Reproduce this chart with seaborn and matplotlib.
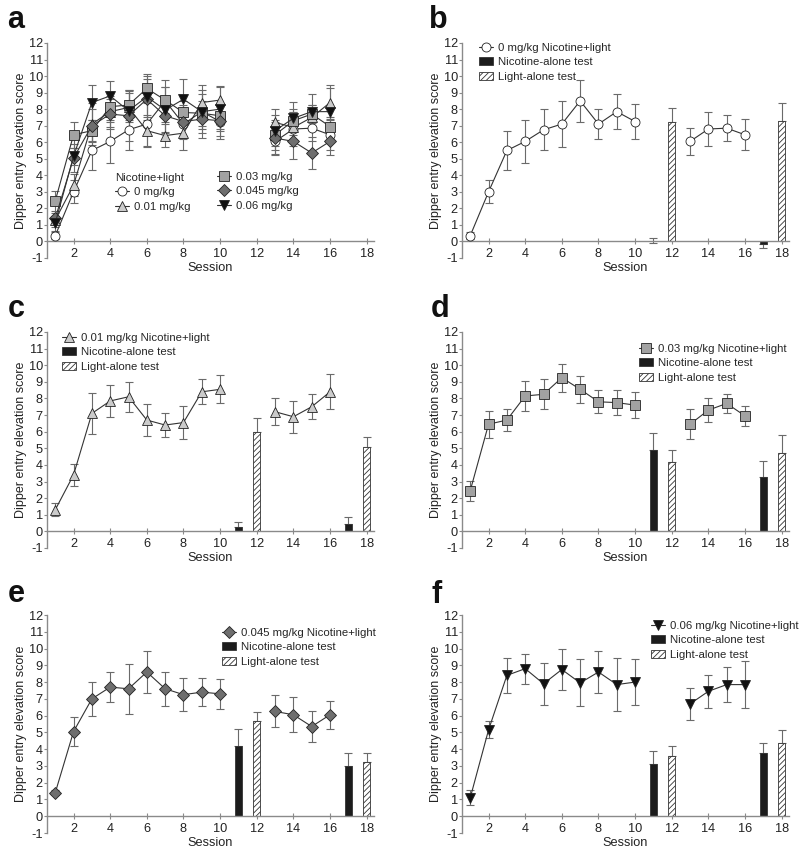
import matplotlib
matplotlib.use('Agg')
import pandas as pd
import matplotlib.pyplot as plt
from matplotlib.lines import Line2D
from matplotlib.patches import Patch
import seaborn as sns

# sessions with the compound stimulus (two blocks)
sessions = [1, 2, 3, 4, 5, 6, 7, 8, 9, 10, 13, 14, 15, 16]
segment = [1] * 10 + [2] * 4
nic_sessions = [11, 17]
light_sessions = [12, 18]

# 0 mg/kg
mean_0 = [0.35, 3.0, 5.5, 6.05, 6.75, 7.1, 8.5, 7.1, 7.85, 7.25, 6.05, 6.8, 6.85, 6.45]
sem_0 = [0.2, 0.7, 1.15, 1.3, 1.25, 1.4, 1.25, 0.9, 1.05, 1.05, 0.8, 1.05, 0.8, 0.95]
nic_0 = [0.03, -0.15]
nic_sem_0 = [0.15, 0.25]
light_0 = [7.25, 7.3]
light_sem_0 = [0.8, 1.05]

# 0.01 mg/kg
mean_001 = [1.3, 3.4, 7.1, 7.85, 8.1, 6.7, 6.4, 6.55, 8.4, 8.55, 7.2, 6.9, 7.5, 8.4]
sem_001 = [0.4, 0.65, 1.25, 0.95, 0.9, 0.95, 0.7, 1.0, 0.75, 0.85, 0.8, 0.95, 0.75, 1.05]
nic_001 = [0.25, 0.45]
nic_sem_001 = [0.3, 0.4]
light_001 = [6.0, 5.1]
light_sem_001 = [0.8, 0.6]

# 0.03 mg/kg
mean_003 = [2.45, 6.45, 6.7, 8.15, 8.25, 9.25, 8.55, 7.8, 7.75, 7.6, 6.45, 7.3, 7.7, 6.95]
sem_003 = [0.6, 0.8, 0.65, 0.9, 0.9, 0.85, 0.8, 0.7, 0.75, 0.8, 0.9, 0.7, 0.55, 0.6]
nic_003 = [4.9, 3.3]
nic_sem_003 = [1.0, 0.95]
light_003 = [4.2, 4.7]
light_sem_003 = [0.7, 1.1]

# 0.045 mg/kg
mean_0045 = [1.4, 5.05, 7.0, 7.7, 7.6, 8.6, 7.6, 7.25, 7.4, 7.3, 6.25, 6.05, 5.35, 6.05]
sem_0045 = [0.15, 0.85, 1.0, 0.9, 1.5, 1.25, 1.0, 1.0, 0.85, 0.9, 0.95, 1.05, 0.95, 0.85]
nic_0045 = [4.2, 3.0]
nic_sem_0045 = [1.0, 0.75]
light_0045 = [5.7, 3.25]
light_sem_0045 = [0.5, 0.55]

# 0.06 mg/kg
mean_006 = [1.1, 5.15, 8.4, 8.8, 7.9, 8.75, 7.95, 8.6, 7.85, 8.0, 6.7, 7.45, 7.85, 7.85]
sem_006 = [0.45, 0.5, 1.05, 0.9, 1.25, 1.25, 1.4, 1.25, 1.6, 1.35, 0.95, 1.0, 1.05, 1.4]
nic_006 = [3.1, 3.75]
nic_sem_006 = [0.8, 0.6]
light_006 = [3.6, 4.35]
light_sem_006 = [0.6, 0.8]

dose_labels = ['0 mg/kg', '0.01 mg/kg', '0.03 mg/kg', '0.045 mg/kg', '0.06 mg/kg']
means = [mean_0, mean_001, mean_003, mean_0045, mean_006]
sems = [sem_0, sem_001, sem_003, sem_0045, sem_006]
nics = [nic_0, nic_001, nic_003, nic_0045, nic_006]
nic_sems = [nic_sem_0, nic_sem_001, nic_sem_003, nic_sem_0045, nic_sem_006]
lights = [light_0, light_001, light_003, light_0045, light_006]
light_sems = [light_sem_0, light_sem_001, light_sem_003, light_sem_0045, light_sem_006]

face = ['white', '#cbcbcb', '#a2a2a2', '#6e6e6e', '#111111']
mark = ['o', '^', 's', 'D', 'v']
msize = [6.5, 7, 6.5, 6, 7]

sns.set_style('ticks')
plt.rcParams['font.family'] = ['Liberation Sans', 'DejaVu Sans']
plt.rcParams['hatch.linewidth'] = 0.6
plt.rcParams['axes.unicode_minus'] = False

W, H = 800, 851
fig = plt.figure(figsize=(W / 100, H / 100), dpi=100)


def px_axes(left, top, bottom, width):
    return fig.add_axes([left / W, 1 - bottom / H, width / W, (bottom - top) / H])


def style_axes(ax):
    ax.set_xlim(0.55, 18.4)
    ax.set_ylim(-1, 12)
    ax.set_yticks(range(-1, 13))
    ax.set_xticks(range(2, 19, 2))
    sns.despine(ax=ax)
    ax.spines['bottom'].set_position(('data', 0))
    for s in ['left', 'bottom']:
        ax.spines[s].set_color('#8a8a8a')
        ax.spines[s].set_linewidth(1.0)
    ax.tick_params(axis='x', direction='inout', length=4, width=0.8, pad=3,
                   color='#8a8a8a', labelcolor='#222222', labelsize=9.2)
    ax.tick_params(axis='y', direction='out', length=2, width=0.8, pad=1,
                   color='#8a8a8a', labelcolor='#222222', labelsize=9.2)
    ax.set_xlabel('Session', fontsize=9.2, labelpad=1, color='#222222')
    ax.set_ylabel('Dipper entry elevation score', fontsize=9, labelpad=1, color='#222222')


def draw_series(ax, i):
    df = pd.DataFrame({'session': sessions, 'score': means[i], 'seg': segment})
    ax.errorbar(sessions, means[i], yerr=sems[i], fmt='none', ecolor='#6a6a6a',
                elinewidth=0.8, capsize=3, capthick=0.8, zorder=2)
    sns.lineplot(data=df, x='session', y='score', units='seg', estimator=None,
                 ax=ax, color='#333333', lw=0.8, marker=mark[i], markersize=msize[i],
                 markerfacecolor=face[i], markeredgecolor='#222222',
                 markeredgewidth=0.6, zorder=3)


def draw_bars(ax, i):
    for xs, vals, errs, fc, hatch in [(nic_sessions, nics[i], nic_sems[i], '#1c1c1c', None),
                                      (light_sessions, lights[i], light_sems[i], 'white', '//////')]:
        ax.bar(xs, vals, width=0.4, color=fc, edgecolor='#333333', linewidth=0.6,
               hatch=hatch, zorder=2)
        lower = [e if v <= 0.1 else 0 for v, e in zip(vals, errs)]
        upper = [e if v >= 0 else 0 for v, e in zip(vals, errs)]
        ax.errorbar(xs, vals, yerr=[lower, upper], fmt='none', ecolor='#6a6a6a',
                    elinewidth=0.8, capsize=3, capthick=0.8, zorder=1)


def series_handle(i):
    return Line2D([], [], color='#333333', lw=0.8, marker=mark[i], markersize=msize[i],
                  markerfacecolor=face[i], markeredgecolor='#222222', markeredgewidth=0.6)


bar_handles = [Patch(facecolor='#1c1c1c', edgecolor='#333333', linewidth=0.6),
               Patch(facecolor='white', edgecolor='#333333', linewidth=0.6, hatch='//////')]

leg_kw = dict(frameon=False, fontsize=8.2, handlelength=1.2, handletextpad=0.45,
              labelspacing=0.38, borderpad=0, borderaxespad=0, loc='upper left')

# panel positions (fig px): left, top, bottom, width
col1_left, col2_left, width = 47, 462, 327
rows = [(43, 258), (332, 548), (615, 833)]

# ---- panel a ----
ax_a = px_axes(col1_left, rows[0][0], rows[0][1], width)
for i in range(5):
    draw_series(ax_a, i)
style_axes(ax_a)
leg1 = ax_a.legend([series_handle(0), series_handle(1)], dose_labels[:2],
                   title='Nicotine+light', title_fontsize=8.2, alignment='left',
                   bbox_to_anchor=(115 / W, 1 - 173 / H), bbox_transform=fig.transFigure,
                   **leg_kw)
ax_a.add_artist(leg1)
ax_a.legend([series_handle(2), series_handle(3), series_handle(4)], dose_labels[2:],
            bbox_to_anchor=(217 / W, 1 - 172 / H), bbox_transform=fig.transFigure,
            **leg_kw)

# ---- panels b-f ----
panels = [
    ('b', 1, col2_left, rows[0], (479, 43)),
    ('c', 2, col1_left, rows[1], (62, 333)),
    ('d', 3, col2_left, rows[1], (639, 344)),
    ('e', 4, col1_left, rows[2], (222, 628)),
    ('f', 5, col2_left, rows[2], (651, 621)),
]
for letter, k, left, (top, bottom), (lx, ly) in panels:
    i = k - 1
    ax = px_axes(left, top, bottom, width)
    draw_bars(ax, i)
    draw_series(ax, i)
    style_axes(ax)
    ax.legend([series_handle(i)] + bar_handles,
              [dose_labels[i] + ' Nicotine+light', 'Nicotine-alone test', 'Light-alone test'],
              bbox_to_anchor=(lx / W, 1 - ly / H), bbox_transform=fig.transFigure, **leg_kw)

# panel letters
for letter, x, y in [('a', 7, 28), ('b', 429, 28), ('c', 8, 317),
                     ('d', 431, 317), ('e', 8, 602), ('f', 432, 603)]:
    fig.text(x / W, 1 - y / H, letter, fontsize=22, fontweight='bold',
             va='baseline', ha='left', color='#111111')

fig.savefig('out.png', dpi=100)
